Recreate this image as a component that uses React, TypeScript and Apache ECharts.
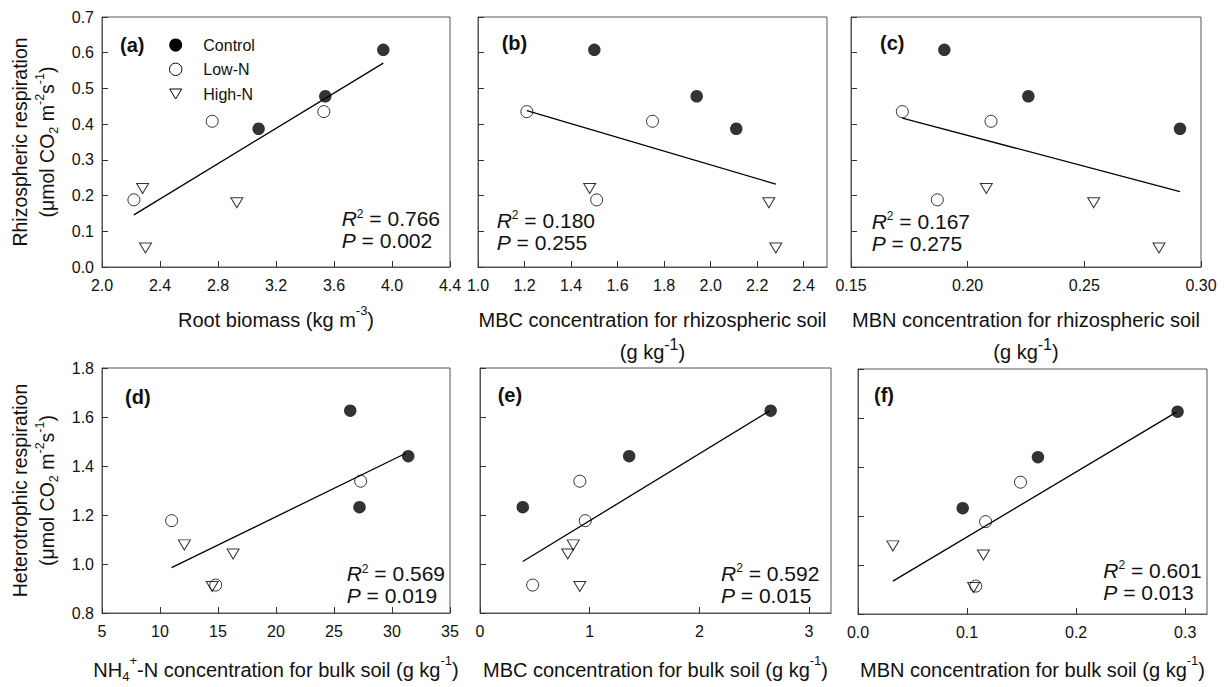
import React, { useEffect, useRef } from 'react';
import * as echarts from 'echarts';

// ---------- DATA ----------
const treatments = ['Control', 'Low-N', 'High-N'];

// Rhizospheric respiration (µmol CO2 m-2 s-1), three plots per treatment
const rhizoControl = [0.608, 0.478, 0.387];
const rhizoLowN = [0.435, 0.408, 0.188];
const rhizoHighN = [0.22, 0.18, 0.053];

// Heterotrophic respiration (µmol CO2 m-2 s-1)
const heteroControl = [1.626, 1.44, 1.232];
const heteroLowN = [1.338, 1.177, 0.914];
const heteroHighN = [1.078, 1.041, 0.908];

// (a) Root biomass (kg m-3)
const rootControl = [3.94, 3.54, 3.08];
const rootLowN = [3.53, 2.76, 2.22];
const rootHighN = [2.28, 2.93, 2.3];
// (b) MBC rhizospheric soil (g kg-1)
const mbcRhizoControl = [1.5, 1.94, 2.11];
const mbcRhizoLowN = [1.21, 1.75, 1.51];
const mbcRhizoHighN = [1.48, 2.25, 2.28];
// (c) MBN rhizospheric soil (g kg-1)
const mbnRhizoControl = [0.19, 0.226, 0.291];
const mbnRhizoLowN = [0.172, 0.21, 0.187];
const mbnRhizoHighN = [0.208, 0.254, 0.282];
// (d) NH4+-N bulk soil (g kg-1)
const nh4Control = [26.4, 31.4, 27.2];
const nh4LowN = [27.3, 11.0, 14.8];
const nh4HighN = [12.1, 16.3, 14.5];
// (e) MBC bulk soil (g kg-1)
const mbcBulkControl = [2.65, 1.36, 0.39];
const mbcBulkLowN = [0.91, 0.96, 0.48];
const mbcBulkHighN = [0.85, 0.8, 0.91];
// (f) MBN bulk soil (g kg-1)
const mbnBulkControl = [0.293, 0.165, 0.096];
const mbnBulkLowN = [0.149, 0.117, 0.108];
const mbnBulkHighN = [0.032, 0.115, 0.106];

// regression line end points [x, y]
const fitA = [[2.22, 0.146], [3.94, 0.571]];
const fitB = [[1.21, 0.438], [2.28, 0.232]];
const fitC = [[0.172, 0.417], [0.291, 0.211]];
const fitD = [[11.0, 0.985], [31.2, 1.452]];
const fitE = [[0.39, 1.01], [2.64, 1.625]];
const fitF = [[0.032, 0.934], [0.292, 1.624]];

const panelLabels = ['(a)', '(b)', '(c)', '(d)', '(e)', '(f)'];
const r2Values = ['0.766', '0.180', '0.167', '0.569', '0.592', '0.601'];
const pValues = ['0.002', '0.255', '0.275', '0.019', '0.015', '0.013'];

// ---------- STYLE / LAYOUT ----------
const FONT = 'Arial, "Liberation Sans", Helvetica, sans-serif';
const TXT = '#111';
const FRAME = '#555';

const titleRich = {
  t: { fontSize: 20, lineHeight: 32, fontFamily: FONT, color: TXT },
  sup: { fontSize: 13, verticalAlign: 'top', fontFamily: FONT, color: TXT },
  sup2: { fontSize: 16, verticalAlign: 'top', fontFamily: FONT, color: TXT },
  sub: { fontSize: 13, verticalAlign: 'bottom', padding: [0, 0, 3, 0], fontFamily: FONT, color: TXT },
};
const yTitleRich = {
  t: { fontSize: 19.5, lineHeight: 27, fontFamily: FONT, color: TXT },
  sup: { fontSize: 12.5, verticalAlign: 'top', fontFamily: FONT, color: TXT },
  sub: { fontSize: 12.5, verticalAlign: 'bottom', fontFamily: FONT, color: TXT },
};

const unitLine = '{t|(\u03bcmol CO}{sub|2}{t| m}{sup|-2}{t|s}{sup|-1}{t|)}';

const panels = [
  {
    grid: { left: 102, top: 17, width: 348, height: 250 },
    x: [2.0, 4.4, 0.4, 1], y: [0, 0.7, 0.1, 1], showY: true,
    xName: '{t|Root biomass (kg m}{sup|-3}{t|)}', xGap: 37,
    yName: '{t|Rhizospheric respiration}\n' + unitLine,
    label: [120, 45], stats: [341.7, 207.5],
    cx: rootControl, lx: rootLowN, hx: rootHighN,
    cy: rhizoControl, ly: rhizoLowN, hy: rhizoHighN, fit: fitA,
  },
  {
    grid: { left: 478, top: 17, width: 349, height: 250 },
    x: [1.0, 2.5, 0.2, 1], y: [0, 0.7, 0.1, 1], showY: false,
    xName: '{t|MBC concentration for rhizospheric soil}\n{t|(g kg}{sup2|-1}{t|)}', xGap: 37,
    label: [501.7, 43], stats: [496.7, 209],
    cx: mbcRhizoControl, lx: mbcRhizoLowN, hx: mbcRhizoHighN,
    cy: rhizoControl, ly: rhizoLowN, hy: rhizoHighN, fit: fitB,
  },
  {
    grid: { left: 851, top: 17, width: 350, height: 250 },
    x: [0.15, 0.3, 0.05, 2], y: [0, 0.7, 0.1, 1], showY: false,
    xName: '{t|MBN concentration for rhizospheric soil}\n{t|(g kg}{sup2|-1}{t|)}', xGap: 37,
    label: [880, 43], stats: [871.7, 210],
    cx: mbnRhizoControl, lx: mbnRhizoLowN, hx: mbnRhizoHighN,
    cy: rhizoControl, ly: rhizoLowN, hy: rhizoHighN, fit: fitC,
  },
  {
    grid: { left: 102, top: 368, width: 348, height: 249 },
    x: [5, 35, 5, 0], y: [0.8, 1.8, 0.2, 1], showY: true,
    xName: '{t|NH}{sub|4}{sup|+}{t|-N concentration for bulk soil (g kg}{sup|-1}{t|)}', xGap: 41,
    yName: '{t|Heterotrophic respiration}\n' + unitLine,
    label: [125, 396.7], stats: [346.7, 562.5],
    cx: nh4Control, lx: nh4LowN, hx: nh4HighN,
    cy: heteroControl, ly: heteroLowN, hy: heteroHighN, fit: fitD,
  },
  {
    grid: { left: 480, top: 368, width: 351, height: 249 },
    x: [0, 3.2, 1, 0], y: [0.8, 1.8, 0.2, 1], showY: false,
    xName: '{t|MBC concentration for bulk soil (g kg}{sup|-1}{t|)}', xGap: 41,
    label: [497.7, 395], stats: [721, 562],
    cx: mbcBulkControl, lx: mbcBulkLowN, hx: mbcBulkHighN,
    cy: heteroControl, ly: heteroLowN, hy: heteroHighN, fit: fitE,
  },
  {
    grid: { left: 858, top: 369, width: 349, height: 250 },
    x: [0, 0.32, 0.1, 1], y: [0.8, 1.8, 0.2, 1], showY: false,
    xName: '{t|MBN concentration for bulk soil (g kg}{sup|-1}{t|)}', xGap: 40,
    label: [874, 395], stats: [1103.3, 559],
    cx: mbnBulkControl, lx: mbnBulkLowN, hx: mbnBulkHighN,
    cy: heteroControl, ly: heteroLowN, hy: heteroHighN, fit: fitF,
  },
];

const TRI = 'path://M0,0L12,0L6,10Z';

function zip(xs: number[], ys: number[]) {
  return xs.map((x, i) => [x, ys[i]]);
}

function buildOption() {
  const grid: any[] = [];
  const xAxis: any[] = [];
  const yAxis: any[] = [];
  const series: any[] = [];
  const graphic: any[] = [];

  panels.forEach((p, i) => {
    grid.push({ ...p.grid, show: true, borderColor: FRAME, borderWidth: 1, backgroundColor: '#fff' });
    const [xmin, xmax, xint, xdec] = p.x;
    const [ymin, ymax, yint, ydec] = p.y;
    const hideMax = Math.abs((xmax - xmin) / xint - Math.round((xmax - xmin) / xint)) > 1e-6;
    xAxis.push({
      type: 'value', gridIndex: i, min: xmin, max: xmax, interval: xint,
      axisLine: { show: true, lineStyle: { color: FRAME, width: 1 } },
      axisTick: { show: true, inside: true, length: 6, lineStyle: { color: '#333', width: 1 } },
      splitLine: { show: false },
      axisLabel: {
        show: true, margin: 10, fontSize: 16, fontFamily: FONT, color: TXT,
        showMaxLabel: !hideMax, showMinLabel: true,
        formatter: (v: number) => v.toFixed(xdec),
      },
      name: p.xName, nameLocation: 'middle', nameGap: p.xGap,
      nameTextStyle: { fontSize: 20, lineHeight: 32, fontFamily: FONT, color: TXT, rich: titleRich },
    });
    yAxis.push({
      type: 'value', gridIndex: i, min: ymin, max: ymax, interval: yint,
      axisLine: { show: true, lineStyle: { color: FRAME, width: 1 } },
      axisTick: { show: true, inside: true, length: 6, lineStyle: { color: '#333', width: 1 } },
      splitLine: { show: false },
      axisLabel: {
        show: p.showY, margin: 8, fontSize: 16, fontFamily: FONT, color: TXT,
        formatter: (v: number) => v.toFixed(ydec),
      },
      name: p.yName || '', nameLocation: 'middle', nameGap: 41.5, nameRotate: 90,
      nameTextStyle: { fontSize: 19.5, lineHeight: 27, fontFamily: FONT, color: TXT, rich: yTitleRich },
    });

    series.push({
      type: 'line', name: 'fit', xAxisIndex: i, yAxisIndex: i, data: p.fit,
      symbol: 'none', lineStyle: { color: '#000', width: 1.3 }, z: 2, silent: true,
    });
    series.push({
      type: 'scatter', name: treatments[0], xAxisIndex: i, yAxisIndex: i,
      data: zip(p.cx, p.cy), symbol: 'circle', symbolSize: 12.5,
      itemStyle: { color: '#000', borderColor: '#000', borderWidth: 0 }, z: 3,
    });
    series.push({
      type: 'scatter', name: treatments[1], xAxisIndex: i, yAxisIndex: i,
      data: zip(p.lx, p.ly), symbol: 'circle', symbolSize: 12,
      itemStyle: { color: 'rgba(255,255,255,0)', borderColor: '#000', borderWidth: 1 }, z: 3,
    });
    series.push({
      type: 'scatter', name: treatments[2], xAxisIndex: i, yAxisIndex: i,
      data: zip(p.hx, p.hy), symbol: TRI, symbolSize: [12, 10],
      itemStyle: { color: 'rgba(255,255,255,0)', borderColor: '#000', borderWidth: 1 }, z: 3,
    });

    graphic.push({
      type: 'text', x: p.label[0], y: p.label[1], z: 10,
      style: { text: panelLabels[i], fontSize: 20, fontWeight: 'bold', fontFamily: FONT, fill: TXT, align: 'left', verticalAlign: 'middle' },
    });
    graphic.push({
      type: 'text', x: p.stats[0], y: p.stats[1], z: 10,
      style: {
        text: '{i|R}{s|2}{n| = ' + r2Values[i] + '}\n{i|P}{n| = ' + pValues[i] + '}',
        fill: TXT, fontFamily: FONT, fontSize: 21, align: 'left', verticalAlign: 'top',
        rich: {
          i: { fontStyle: 'italic', fontSize: 21, lineHeight: 22, fontFamily: FONT, fill: TXT },
          n: { fontSize: 21, lineHeight: 22, fontFamily: FONT, fill: TXT },
          s: { fontSize: 12, verticalAlign: 'top', fontFamily: FONT, fill: TXT },
        },
      },
    });
  });

  // legend (panel a)
  const legX = 175.7;
  const legRows = [45, 69.3, 94];
  graphic.push({ type: 'circle', shape: { cx: legX, cy: legRows[0], r: 6.5 }, style: { fill: '#000' }, z: 10 });
  graphic.push({ type: 'circle', shape: { cx: legX, cy: legRows[1], r: 6.2 }, style: { fill: 'none', stroke: '#000', lineWidth: 1 }, z: 10 });
  graphic.push({
    type: 'polygon', z: 10,
    shape: { points: [[legX - 6, legRows[2] - 5], [legX + 6, legRows[2] - 5], [legX, legRows[2] + 5]] },
    style: { fill: 'none', stroke: '#000', lineWidth: 1 },
  });
  treatments.forEach((t, k) => {
    graphic.push({
      type: 'text', x: 203.3, y: legRows[k], z: 10,
      style: { text: t, fontSize: 16, fontFamily: FONT, fill: TXT, align: 'left', verticalAlign: 'middle' },
    });
  });

  return { animation: false, backgroundColor: '#fff', grid, xAxis, yAxis, series, graphic };
}

export default function App() {
  const ref = useRef<HTMLDivElement>(null);
  useEffect(() => {
    if (!ref.current) return;
    const chart = echarts.init(ref.current, undefined, { renderer: 'svg' });
    chart.setOption(buildOption() as any);
    return () => chart.dispose();
  }, []);
  return (
    <div
      ref={ref}
      style={{ position: 'fixed', left: 0, top: 0, width: 1228, height: 687, background: '#fff' }}
    />
  );
}
